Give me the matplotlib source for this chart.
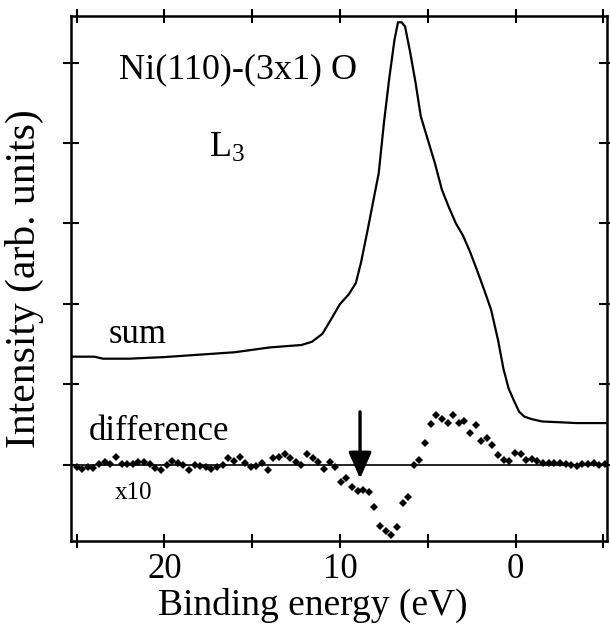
import matplotlib
matplotlib.use('Agg')
import matplotlib.pyplot as plt

plt.rcParams['font.family'] = ['Liberation Serif', 'DejaVu Serif']
plt.rcParams['mathtext.fontset'] = 'custom'
plt.rcParams['mathtext.rm'] = 'Liberation Serif'
plt.rcParams['mathtext.it'] = 'Liberation Serif'

# Sum spectrum (binding energy in eV, intensity in arb. units)
sum_energy = [25.3, 24.0, 23.5, 22.0, 20.0, 18.0, 16.0, 14.0, 12.8, 12.2, 11.6, 11.0,
              10.4, 10.0, 9.5, 9.1, 8.8, 8.4, 8.0, 7.8, 7.5, 7.2, 6.9, 6.7, 6.5, 6.3,
              6.0, 5.7, 5.4, 5.0, 4.6, 4.2, 3.8, 3.4, 3.0, 2.6, 2.2, 1.8, 1.4, 1.0,
              0.7, 0.4, 0.1, -0.2, -0.5, -0.9, -1.5, -2.5, -3.5, -5.2]
sum_intensity = [1.345, 1.345, 1.32, 1.32, 1.34, 1.37, 1.40, 1.46, 1.48, 1.49, 1.53, 1.63,
                 1.85, 2.00, 2.12, 2.26, 2.52, 2.95, 3.40, 3.62, 4.25, 4.80, 5.28, 5.50, 5.50, 5.45,
                 5.12, 4.75, 4.33, 4.04, 3.75, 3.42, 3.20, 3.00, 2.85, 2.65, 2.42, 2.18, 1.93, 1.55,
                 1.20, 0.95, 0.80, 0.66, 0.60, 0.57, 0.54, 0.53, 0.52, 0.52]

# Difference spectrum (x10)
diff_energy = [25.00, 24.68, 24.36, 24.04, 23.72, 23.40, 23.08, 22.76, 22.44, 22.12,
               21.80, 21.48, 21.16, 20.84, 20.52, 20.20, 19.88, 19.56, 19.24, 18.92,
               18.60, 18.28, 17.96, 17.64, 17.32, 17.00, 16.68, 16.36, 16.04, 15.72,
               15.40, 15.08, 14.76, 14.44, 14.12, 13.80, 13.48, 13.16, 12.84, 12.52,
               12.20, 11.88, 11.56, 11.24, 10.92, 10.60, 10.28, 9.96, 9.64, 9.32,
               9.00, 8.68, 8.36, 8.04, 7.72, 7.40, 7.08, 6.76, 6.44, 6.12,
               5.80, 5.48, 5.16, 4.84, 4.52, 4.20, 3.88, 3.56, 3.24, 2.92,
               2.60, 2.28, 1.96, 1.64, 1.32, 1.00, 0.68, 0.36, 0.04, -0.28,
               -0.60, -0.92, -1.24, -1.56, -1.88, -2.20, -2.52, -2.84, -3.16, -3.48,
               -3.80, -4.12, -4.44, -4.76, -5.08]
diff_intensity = [-0.02, -0.05, -0.03, -0.04, 0.01, 0.04, 0.01, 0.10, 0.01, 0.01,
                  0.01, 0.04, 0.04, 0.01, -0.04, -0.06, 0.00, 0.05, 0.02, 0.00,
                  -0.06, 0.00, -0.01, -0.02, -0.05, -0.02, 0.00, 0.08, 0.05, 0.10,
                  0.03, -0.02, -0.01, 0.02, -0.06, 0.08, 0.10, 0.14, 0.08, 0.04,
                  0.00, 0.13, 0.08, 0.04, -0.05, 0.04, -0.02, -0.21, -0.16, -0.27,
                  -0.33, -0.31, -0.34, -0.52, -0.76, -0.82, -0.87, -0.77, -0.47, -0.40,
                  0.00, 0.06, 0.27, 0.51, 0.62, 0.57, 0.52, 0.62, 0.52, 0.55,
                  0.40, 0.50, 0.30, 0.33, 0.25, 0.12, 0.06, 0.05, 0.15, 0.14,
                  0.06, 0.07, 0.05, 0.03, 0.03, 0.02, 0.02, 0.01, 0.00, -0.01,
                  0.01, 0.01, 0.02, 0.00, 0.01]

arrow_energy = 8.86
x_ticks = [20, 10, 0]
x_minor = [25, 15, 5, -5]
y_ticks = [0, 1, 2, 3, 4, 5]

fig = plt.figure(figsize=(6.1, 6.33), dpi=100)
ax = fig.add_axes([0.117, 0.146, 0.878, 0.829])

ax.axhline(0, color='black', lw=1.2)
ax.plot(sum_energy, sum_intensity, color='black', lw=1.6)
ax.plot(diff_energy, diff_intensity, 'D', color='black', markersize=4.2, markeredgewidth=0)

ax.annotate('', xy=(arrow_energy, -0.17), xytext=(arrow_energy, 0.66),
            arrowprops=dict(arrowstyle='-|>,head_length=0.8,head_width=0.35',
                            color='black', lw=2.4, mutation_scale=20,
                            shrinkA=0, shrinkB=0))

ax.text(22.6, 4.80, 'Ni(110)-(3x1) O', fontsize=26, ha='left', va='baseline')
ax.text(17.45, 3.83, r'L$_{\mathrm{3}}$', fontsize=26, ha='left', va='baseline')
ax.text(23.2, 1.52, 'sum', fontsize=25, ha='left', va='baseline')
ax.text(24.3, 0.31, 'difference', fontsize=25, ha='left', va='baseline')
ax.text(22.8, -0.42, 'x10', fontsize=18, ha='left', va='baseline')

ax.set_xlim(25.3, -5.2)
ax.set_ylim(-0.94, 5.58)
ax.set_xticks(x_ticks)
ax.set_xticks(x_minor, minor=True)
ax.set_yticks(y_ticks)
ax.set_yticklabels([])
ax.tick_params(axis='both', which='both', direction='inout', top=True, right=True,
               width=1.5, length=10, labelsize=25, pad=4)
ax.tick_params(axis='y', which='both', length=12)
for s in ax.spines.values():
    s.set_linewidth(1.8)

ax.set_xlabel('Binding energy (eV)', fontsize=27, labelpad=1)
ax.xaxis.label.set_x(0.45)
ax.set_ylabel('Intensity (arb. units)', fontsize=30, labelpad=10)

fig.savefig('out.png', dpi=100)
